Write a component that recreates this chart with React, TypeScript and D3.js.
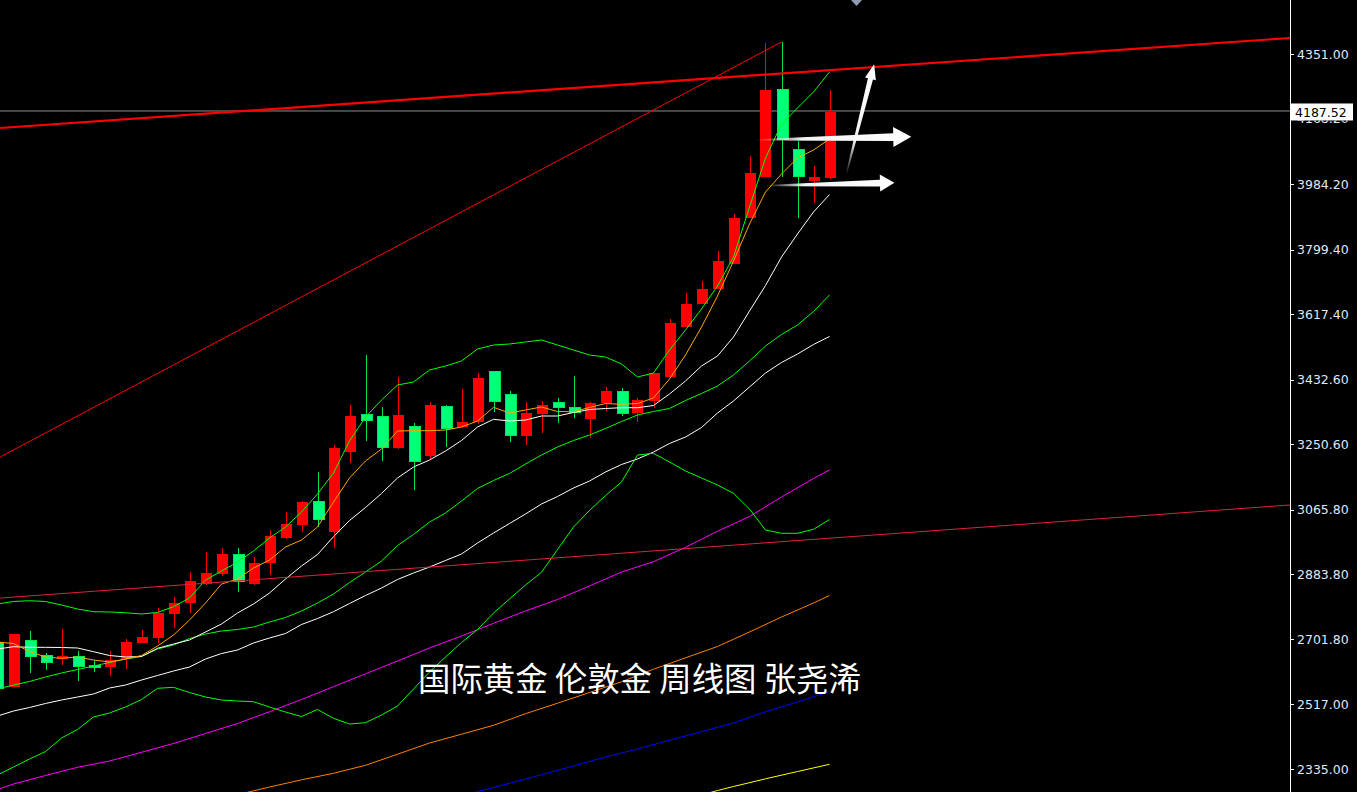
import React from "react";
import * as d3 from "d3";

// ---- Weekly XAUUSD bars (bar index -1 is the partially visible first week) ----
const FIRST_BAR = -1;
const opens = [2691.1, 2567.1, 2698.7, 2656.4, 2644.3, 2653.6, 2628.2, 2623.4, 2644.3, 2691.1, 2705.2, 2772.9, 2803.9, 2857.5, 2884.8, 2938.4, 2857.5, 2915.0, 2987.2, 3023.8, 3090.6, 3004.1, 3229.6, 3335.9, 3327.5, 3240.9, 3299.3, 3218.4, 3358.5, 3299.3, 3314.2, 3454.4, 3392.3, 3274.8, 3336.8, 3367.0, 3352.9, 3321.8, 3367.0, 3400.8, 3339.6, 3373.4, 3439.4, 3581.2, 3647.0, 3689.2, 3759.7, 3889.4, 4005.0, 4252.3, 4083.1, 3993.8, 4002.2];
const highs = [2695.0, 2717.0, 2724.1, 2662.9, 2729.7, 2667.7, 2642.3, 2667.7, 2700.7, 2726.9, 2788.1, 2820.8, 2890.4, 2946.8, 2959.0, 2959.0, 2932.7, 3008.9, 3059.6, 3090.6, 3172.4, 3248.5, 3361.3, 3502.3, 3355.7, 3440.3, 3310.6, 3369.8, 3361.3, 3406.4, 3451.5, 3455.5, 3400.8, 3369.8, 3372.6, 3381.1, 3443.1, 3369.0, 3412.1, 3409.3, 3381.1, 3452.0, 3603.8, 3677.1, 3711.0, 3795.5, 3899.9, 4063.4, 4382.0, 4385.0, 4105.7, 4035.2, 4249.5];
const lows = [2560.0, 2565.0, 2606.5, 2614.1, 2628.2, 2583.9, 2609.3, 2597.2, 2617.8, 2689.0, 2689.4, 2731.7, 2774.0, 2855.0, 2879.2, 2834.9, 2855.0, 2882.8, 2984.4, 3004.1, 3018.2, 2959.0, 3196.9, 3260.7, 3204.3, 3238.1, 3121.7, 3207.1, 3243.7, 3297.0, 3308.6, 3342.4, 3257.8, 3249.4, 3283.2, 3311.4, 3325.5, 3268.3, 3344.4, 3331.2, 3314.2, 3353.7, 3437.0, 3580.0, 3646.0, 3688.0, 3758.0, 3888.0, 4003.0, 4003.0, 3889.4, 3931.7, 3999.4];
const closes = [2562.5, 2715.6, 2651.6, 2634.7, 2653.6, 2623.4, 2620.6, 2642.3, 2693.1, 2707.2, 2774.0, 2803.0, 2865.1, 2887.6, 2941.2, 2862.3, 2915.8, 2992.0, 3025.8, 3087.8, 3039.0, 3240.1, 3330.3, 3317.1, 3240.9, 3333.1, 3201.4, 3361.3, 3294.5, 3313.4, 3437.4, 3370.6, 3274.8, 3338.8, 3361.3, 3353.7, 3339.6, 3367.0, 3400.8, 3336.8, 3375.4, 3451.5, 3592.5, 3646.1, 3688.4, 3767.3, 3888.6, 4015.5, 4249.5, 4109.4, 4005.0, 4005.0, 4187.52];

// ---- Indicator values per bar (same indexing as the bars) ----
const bbUpper = [2800.2, 2807.3, 2809.5, 2807.3, 2797.4, 2786.1, 2778.5, 2777.7, 2775.7, 2772.0, 2776.3, 2792.6, 2817.1, 2867.9, 2893.3, 2918.6, 2949.7, 2986.3, 3017.3, 3059.6, 3110.4, 3169.6, 3259.8, 3327.5, 3375.4, 3417.7, 3426.2, 3460.0, 3471.3, 3485.4, 3519.2, 3530.5, 3533.3, 3539.0, 3544.6, 3530.5, 3516.4, 3502.3, 3496.7, 3476.9, 3440.3, 3451.5, 3516.4, 3572.8, 3632.0, 3696.9, 3778.6, 3919.6, 4057.8, 4153.6, 4198.7, 4243.9, 4300.2];
const bbMiddle = [2560.6, 2571.8, 2581.7, 2594.4, 2605.7, 2615.5, 2625.4, 2635.3, 2645.1, 2652.2, 2673.3, 2684.6, 2702.9, 2715.6, 2724.1, 2728.3, 2735.4, 2749.5, 2762.2, 2780.5, 2803.0, 2828.4, 2860.8, 2890.4, 2921.5, 2965.2, 2996.2, 3031.4, 3056.8, 3090.6, 3125.9, 3148.4, 3168.2, 3195.0, 3220.3, 3242.9, 3261.2, 3276.7, 3295.1, 3314.8, 3333.1, 3343.0, 3351.5, 3374.0, 3393.7, 3414.9, 3445.9, 3485.4, 3527.7, 3560.1, 3586.9, 3625.0, 3671.5];
const bbLower = [2318.1, 2340.6, 2363.2, 2384.3, 2422.4, 2446.4, 2481.6, 2492.9, 2509.8, 2530.9, 2562.5, 2565.3, 2550.7, 2538.0, 2529.5, 2526.7, 2524.7, 2509.8, 2495.7, 2483.0, 2502.8, 2477.9, 2461.9, 2465.5, 2487.2, 2512.6, 2560.6, 2608.5, 2650.8, 2691.7, 2728.3, 2774.8, 2814.3, 2853.8, 2889.6, 2953.9, 3017.3, 3063.9, 3106.1, 3144.2, 3220.3, 3225.1, 3200.6, 3175.2, 3155.5, 3135.8, 3112.4, 3068.1, 3008.9, 2999.6, 2999.6, 3010.8, 3038.5];
const ma5 = [2693.1, 2688.8, 2666.3, 2650.8, 2647.1, 2650.8, 2642.3, 2636.7, 2645.1, 2655.0, 2681.8, 2712.8, 2755.1, 2803.0, 2856.6, 2870.7, 2901.7, 2924.3, 2960.9, 2980.7, 3017.3, 3087.8, 3155.5, 3203.4, 3237.3, 3288.0, 3288.9, 3288.9, 3290.8, 3299.3, 3316.2, 3354.8, 3338.8, 3347.2, 3355.7, 3343.0, 3342.4, 3354.3, 3365.5, 3363.3, 3365.5, 3381.1, 3434.6, 3502.3, 3581.2, 3668.7, 3767.3, 3871.7, 3961.9, 4012.6, 4057.8, 4080.3, 4111.3];
const ma10 = [2673.3, 2679.8, 2678.1, 2678.1, 2677.6, 2676.2, 2665.7, 2655.0, 2650.8, 2652.2, 2675.3, 2687.4, 2698.7, 2721.3, 2743.8, 2774.8, 2800.2, 2831.2, 2870.7, 2907.4, 2939.8, 2990.0, 3035.7, 3072.3, 3111.8, 3155.5, 3186.5, 3206.2, 3231.6, 3261.2, 3299.3, 3321.0, 3316.2, 3319.0, 3330.3, 3330.3, 3340.2, 3348.6, 3351.5, 3353.7, 3353.7, 3359.9, 3392.3, 3429.0, 3471.3, 3499.5, 3553.1, 3626.4, 3698.3, 3778.6, 3843.5, 3905.5, 3954.8];
const ma30 = [2484.4, 2498.5, 2508.4, 2519.7, 2529.5, 2538.0, 2546.5, 2563.4, 2571.8, 2585.9, 2598.6, 2611.3, 2622.6, 2645.1, 2660.6, 2670.5, 2690.3, 2704.4, 2717.0, 2742.4, 2759.3, 2778.5, 2801.6, 2824.2, 2845.3, 2869.3, 2887.6, 2904.5, 2922.9, 2941.2, 2972.2, 3000.4, 3027.2, 3054.0, 3082.2, 3103.3, 3127.3, 3147.0, 3172.4, 3193.6, 3209.1, 3228.8, 3252.8, 3271.1, 3297.9, 3338.8, 3372.6, 3412.1, 3451.5, 3481.2, 3505.1, 3531.9, 3554.5];

// Long averages, given as [bar, value]
const ma60: [number, number][] = [[-1, 2277.2], [0, 2292.7], [2, 2316.7], [4, 2339.8], [6, 2357.5], [8, 2382.1], [10, 2406.9], [12, 2435.1], [14, 2463.3], [16, 2496.5], [18, 2530.9], [20, 2567.0], [22, 2603.4], [24, 2639.5], [26, 2676.2], [28, 2710.0], [30, 2745.8], [32, 2780.5], [34, 2812.9], [36, 2851.0], [38, 2890.4], [40, 2919.5], [42, 2960.1], [44, 3005.5], [46, 3046.9], [48, 3101.9], [50, 3154.1], [51, 3178.1]];
const ma120: [number, number][] = [[14, 2262.5], [16, 2284.2], [18, 2304.5], [20, 2322.9], [22, 2345.4], [24, 2376.7], [26, 2408.3], [28, 2433.1], [30, 2458.2], [32, 2490.9], [34, 2520.5], [36, 2550.7], [38, 2580.9], [40, 2616.4], [42, 2648.5], [44, 2680.4], [46, 2721.3], [48, 2763.6], [50, 2803.0], [51, 2824.2]];
const ma200: [number, number][] = [[27, 2247.6], [29, 2271.0], [31, 2294.7], [33, 2318.9], [35, 2343.7], [37, 2368.8], [39, 2391.4], [41, 2416.2], [43, 2440.2], [45, 2464.7], [47, 2496.5], [49, 2523.9], [51, 2553.5]];
const ma250: [number, number][] = [[43, 2261.7], [44, 2274.4], [45, 2285.6], [47, 2307.3], [49, 2327.9], [51, 2348.2]];

// Trend lines: [bar, price] endpoints
const channelTop: [number, number][] = [[-0.83, 4142.4], [79.79, 4396.1]];
const channelBottom: [number, number][] = [[-0.83, 2817.1], [79.79, 3079.4]];
const steepTrend: [number, number][] = [[-0.83, 3214.7], [48, 4385.0]];

// Hand-drawn arrows: tail -> tip as [bar, price]
const arrows = [
  { tail: [46.36, 4108.5], tip: [56.11, 4117.8], head: 18, headHalf: 10, shaft: 3.8 },
  { tail: [46.98, 3979.7], tip: [55.06, 3988.1], head: 14.5, headHalf: 8.5, shaft: 3.4 },
  { tail: [52.04, 4009.8], tip: [53.79, 4322.0], head: 15, headHalf: 5.6, shaft: 2.6 },
];

// Price axis
const tickValues = [4351.0, 4168.2, 3984.2, 3799.4, 3617.4, 3432.6, 3250.6, 3065.8, 2883.8, 2701.8, 2517.0, 2335.0];
const lastPrice = 4187.52;
const title = "国际黄金 伦敦金 周线图 张尧浠";

const W = 1357;
const H = 792;
const AXIS_X = 1290;

const xScale = d3.scaleLinear().domain([0, 51]).range([13.5, 829.5]);
const yScale = d3.scaleLinear().domain([2335, 4351]).range([769, 54]);

const RED = "#ff0000";
const GREEN_FILL = "#00ff80";
const GREEN_EDGE = "#00e850";

function seriesPath(values: number[]) {
  const gen = d3
    .line<number>()
    .x((_, i) => xScale(i + FIRST_BAR))
    .y((v) => yScale(v));
  return gen(values) || "";
}

function pairPath(points: [number, number][]) {
  const gen = d3
    .line<[number, number]>()
    .x((p) => xScale(p[0]))
    .y((p) => yScale(p[1]));
  return gen(points) || "";
}

function arrowPolygon(a: typeof arrows[number]) {
  const tx = xScale(a.tail[0]);
  const ty = yScale(a.tail[1]);
  const px = xScale(a.tip[0]);
  const py = yScale(a.tip[1]);
  const len = Math.hypot(px - tx, py - ty);
  const ux = (px - tx) / len;
  const uy = (py - ty) / len;
  const nx = -uy;
  const ny = ux;
  const bx = px - ux * a.head;
  const by = py - uy * a.head;
  const w0 = 0.6;
  const pts = [
    [tx + nx * w0, ty + ny * w0],
    [bx + nx * a.shaft, by + ny * a.shaft],
    [bx + nx * a.headHalf, by + ny * a.headHalf],
    [px, py],
    [bx - nx * a.headHalf, by - ny * a.headHalf],
    [bx - nx * a.shaft, by - ny * a.shaft],
    [tx - nx * w0, ty - ny * w0],
  ];
  return { points: pts.map((p) => p.join(",")).join(" "), tx, ty, px, py };
}

export default function App() {
  const bars = opens.map((o, k) => ({
    i: k + FIRST_BAR,
    o,
    h: highs[k],
    l: lows[k],
    c: closes[k],
  }));

  const lastY = yScale(lastPrice);

  return (
    <div style={{ position: "fixed", left: 0, top: 0, width: W, height: H, background: "#000" }}>
      <svg width={W} height={H} style={{ display: "block", background: "#000" }}>
        <defs>
          <clipPath id="plot">
            <rect x={0} y={0} width={AXIS_X} height={H} />
          </clipPath>
          {/* the axis label hidden under the last-price box only shows its lower sliver */}
          <clipPath id="underBox">
            <rect x={AXIS_X} y={lastY + 8.5} width={W - AXIS_X} height={10} />
          </clipPath>
          {arrows.map((a, k) => {
            const g = arrowPolygon(a);
            return (
              <linearGradient
                key={k}
                id={`arrowFade${k}`}
                gradientUnits="userSpaceOnUse"
                x1={g.tx}
                y1={g.ty}
                x2={g.px}
                y2={g.py}
              >
                <stop offset="0" stopColor="#ffffff" stopOpacity={0} />
                <stop offset="0.3" stopColor="#ffffff" stopOpacity={0.95} />
                <stop offset="1" stopColor="#ffffff" stopOpacity={1} />
              </linearGradient>
            );
          })}
        </defs>

        <g clipPath="url(#plot)">
          {/* last price line */}
          <line x1={0} x2={AXIS_X} y1={lastY - 1} y2={lastY - 1} stroke="#8c8c8c" strokeWidth={1} />

          {/* candles */}
          <g shapeRendering="crispEdges">
            {bars.map((b) => {
              const cx = Math.round(xScale(b.i));
              const up = b.c >= b.o;
              const top = yScale(Math.max(b.o, b.c));
              const bot = yScale(Math.min(b.o, b.c));
              const col = up ? RED : GREEN_EDGE;
              return (
                <g key={b.i}>
                  <line x1={cx + 0.5} x2={cx + 0.5} y1={yScale(b.h)} y2={yScale(b.l)} stroke={col} strokeWidth={1} />
                  <rect
                    x={cx - 5}
                    y={top}
                    width={11}
                    height={Math.max(1.5, bot - top)}
                    fill={up ? RED : GREEN_FILL}
                    stroke={up ? "none" : GREEN_EDGE}
                    strokeWidth={up ? 0 : 1}
                  />
                </g>
              );
            })}
          </g>

          {/* moving averages and Bollinger bands */}
          <g fill="none" strokeWidth={1}>
            <path d={pairPath(ma250)} stroke="#ffff00" />
            <path d={pairPath(ma200)} stroke="#0000ff" />
            <path d={pairPath(ma120)} stroke="#ff8000" />
            <path d={pairPath(ma60)} stroke="#ff00ff" />
            <path d={seriesPath(ma30)} stroke="#ffffff" />
            <path d={seriesPath(bbLower)} stroke="#00ff00" />
            <path d={seriesPath(bbMiddle)} stroke="#00ff00" />
            <path d={seriesPath(bbUpper)} stroke="#00ff00" />
            <path d={seriesPath(ma10)} stroke="#ffffff" />
            <path d={seriesPath(ma5)} stroke="#ffa500" />
          </g>

          {/* trend lines */}
          <path d={pairPath(channelBottom)} stroke="#e0203c" strokeWidth={1} fill="none" />
          <path d={pairPath(steepTrend)} stroke="#ff0000" strokeWidth={1} fill="none" />
          <path d={pairPath(channelTop)} stroke="#ff0000" strokeWidth={2.2} fill="none" />

          {/* arrows */}
          {arrows.map((a, k) => {
            const g = arrowPolygon(a);
            return <polygon key={k} points={g.points} fill={`url(#arrowFade${k})`} />;
          })}

          {/* marker at top */}
          <polygon points="851,0 862,0 856.5,6" fill="#8d9cb2" />

          <text
            x={418}
            y={691}
            fill="#ffffff"
            fontSize={32.4}
            fontFamily="'Noto Sans CJK SC', 'Noto Sans', sans-serif"
          >
            {title}
          </text>
        </g>

        {/* price axis */}
        <line x1={AXIS_X + 0.5} x2={AXIS_X + 0.5} y1={0} y2={H} stroke="#ffffff" strokeWidth={1} />
        <g fontFamily="'DejaVu Sans', Verdana, sans-serif" fontSize={12.5} fill="#dfe8f6">
          {tickValues.map((v) => {
            const y = yScale(v);
            const hidden = Math.abs(y - lastY) < 14;
            return (
              <g key={v}>
                <line x1={AXIS_X} x2={AXIS_X + 4} y1={Math.round(y) + 0.5} y2={Math.round(y) + 0.5} stroke="#ffffff" />
                <text x={1297} y={y + 4.6} clipPath={hidden ? "url(#underBox)" : undefined}>
                  {v.toFixed(2)}
                </text>
              </g>
            );
          })}
        </g>
        <rect x={1291} y={lastY - 8.5} width={62} height={17} fill="#ffffff" />
        <text
          x={1295}
          y={lastY + 4.6}
          fontFamily="'DejaVu Sans', Verdana, sans-serif"
          fontSize={12.5}
          fill="#000000"
        >
          {lastPrice.toFixed(2)}
        </text>
      </svg>
    </div>
  );
}
